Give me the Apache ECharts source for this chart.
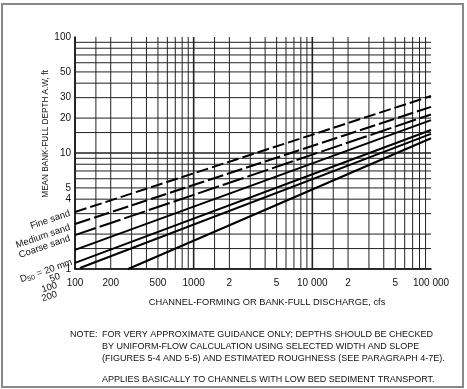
<!DOCTYPE html>
<html><head><meta charset="utf-8">
<script src="https://cdn.jsdelivr.net/npm/echarts@6/dist/echarts.min.js"></script>
<style>html,body{margin:0;padding:0;background:#fff}#c{width:467px;height:389px}</style>
</head><body><div id="c"></div>
<script>
// Data
const xTickValues = [100, 200, 500, 1000, 2000, 5000, 10000, 20000, 50000, 100000];
const xTickLabels = ['100', '200', '500', '1000', '2', '5', '10 000', '2', '5', '100 000'];
const yTickValues = [1, 4, 5, 10, 20, 30, 50, 100];
const yTickLabels = ['1', '4', '5', '10', '20', '30', '50', '100'];
const gridMultipliers = [1, 1.5, 2, 3, 4, 5, 6, 7, 8, 9];
const curveNames = ['Fine sand', 'Medium sand', 'Coarse sand', 'D50 = 20 mm', '50 mm', '100 mm', '200 mm'];
const curveQ = [[100, 100000], [100, 100000], [100, 100000], [100, 100000], [100, 100000], [110, 100000], [280, 100000]];
const curveDepth = [[3.1, 31], [2.44, 25], [1.96, 21.5], [1.46, 19.2], [1.13, 15.8], [1.02, 14.6], [1.0, 13.4]];
const curveDash = [[12, 4], [16, 4], [22, 4], 'solid', 'solid', 'solid', 'solid'];

const chart = echarts.init(document.getElementById('c'), null, {renderer: 'canvas'});
const FONT = 'Liberation Sans, Arial, sans-serif';

const series = [];
for (let d = 100; d < 100000; d *= 10) {
  gridMultipliers.forEach(m => {
    const x = d * m;
    series.push({type: 'line', silent: true, symbol: 'none', animation: false,
      lineStyle: {color: '#222', width: m === 1 ? 1.6 : 1}, data: [[x, 1], [x, 100]]});
  });
}
for (let d = 1; d < 100; d *= 10) {
  gridMultipliers.forEach(m => {
    const y = d * m;
    series.push({type: 'line', silent: true, symbol: 'none', animation: false,
      lineStyle: {color: '#222', width: m === 1 ? 1.6 : 1}, data: [[100, y], [100000, y]]});
  });
}
curveNames.forEach((n, i) => {
  series.push({name: n, type: 'line', symbol: 'none', animation: false, z: 5,
    lineStyle: {color: '#000', width: 2, type: curveDash[i]},
    data: [[curveQ[i][0], curveDepth[i][0]], [curveQ[i][1], curveDepth[i][1]]]});
});

const rot = 0.33;
const labTexts = [
  {t: 'Fine sand', x: 70, y: 213},
  {t: 'Medium sand', x: 70, y: 227},
  {t: 'Coarse sand', x: 70, y: 238},
  {t: 'D{s|50} = 20 mm', x: 72, y: 262},
  {t: '50', x: 60, y: 276},
  {t: '100', x: 57, y: 285},
  {t: '200', x: 57, y: 294}
];

chart.setOption({
  backgroundColor: '#fff',
  animation: false,
  grid: {left: 75, right: 36, top: 37, bottom: 120},
  xAxis: {type: 'log', logBase: 10, min: 100, max: 100000,
    axisLine: {show: true, lineStyle: {color: '#000', width: 1.6}},
    axisTick: {show: false}, splitLine: {show: false}, minorSplitLine: {show: false},
    axisLabel: {customValues: xTickValues, color: '#111', fontSize: 10, fontFamily: FONT, margin: 9,
      formatter: v => { const i = xTickValues.findIndex(t => Math.abs(t - v) / t < 1e-6); return i >= 0 ? xTickLabels[i] : ''; }}
  },
  yAxis: {type: 'log', logBase: 10, min: 1, max: 100,
    axisLine: {show: true, lineStyle: {color: '#000', width: 1.6}},
    axisTick: {show: false}, splitLine: {show: false},
    axisLabel: {customValues: yTickValues, color: '#111', fontSize: 10, fontFamily: FONT, margin: 4,
      formatter: v => { const i = yTickValues.findIndex(t => Math.abs(t - v) / t < 1e-6); return i >= 0 ? yTickLabels[i] : ''; }}
  },
  series: series,
  graphic: [
    {type: 'rect', shape: {x: 2, y: 4, width: 461, height: 383}, style: {fill: 'none', stroke: '#888', lineWidth: 2}, silent: true},
    {type: 'text', x: 46, y: 134, rotation: Math.PI / 2,
      style: {text: 'MEAN BANK-FULL DEPTH A.W, ft', font: '8.2px ' + FONT, fill: '#111', align: 'center', verticalAlign: 'middle'}},
    {type: 'text', x: 267, y: 302,
      style: {text: 'CHANNEL-FORMING OR BANK-FULL DISCHARGE, cfs', font: '9.3px ' + FONT, fill: '#111', align: 'center', verticalAlign: 'middle'}},
    ...labTexts.map(l => ({type: 'text', x: l.x, y: l.y, rotation: rot, originX: 0, originY: 0,
      style: {text: l.t, font: '9.5px ' + FONT, fill: '#111', align: 'right', verticalAlign: 'middle',
        rich: {s: {fontSize: 7, verticalAlign: 'bottom', padding: [4, 0, 0, 0]}}}})),
    {type: 'text', x: 70, y: 335, style: {text: 'NOTE:', font: '9px ' + FONT, fill: '#111', verticalAlign: 'middle'}},
    {type: 'text', x: 102, y: 335, style: {text: 'FOR VERY APPROXIMATE GUIDANCE ONLY; DEPTHS SHOULD BE CHECKED', font: '9px ' + FONT, fill: '#111', verticalAlign: 'middle'}},
    {type: 'text', x: 102, y: 347, style: {text: 'BY UNIFORM-FLOW CALCULATION USING SELECTED WIDTH AND SLOPE', font: '9px ' + FONT, fill: '#111', verticalAlign: 'middle'}},
    {type: 'text', x: 102, y: 359, style: {text: '(FIGURES 5-4 AND 5-5) AND ESTIMATED ROUGHNESS (SEE PARAGRAPH 4-7E).', font: '9px ' + FONT, fill: '#111', verticalAlign: 'middle'}},
    {type: 'text', x: 102, y: 380, style: {text: 'APPLIES BASICALLY TO CHANNELS WITH LOW BED SEDIMENT TRANSPORT.', font: '9px ' + FONT, fill: '#111', verticalAlign: 'middle'}}
  ]
});
</script></body></html>
